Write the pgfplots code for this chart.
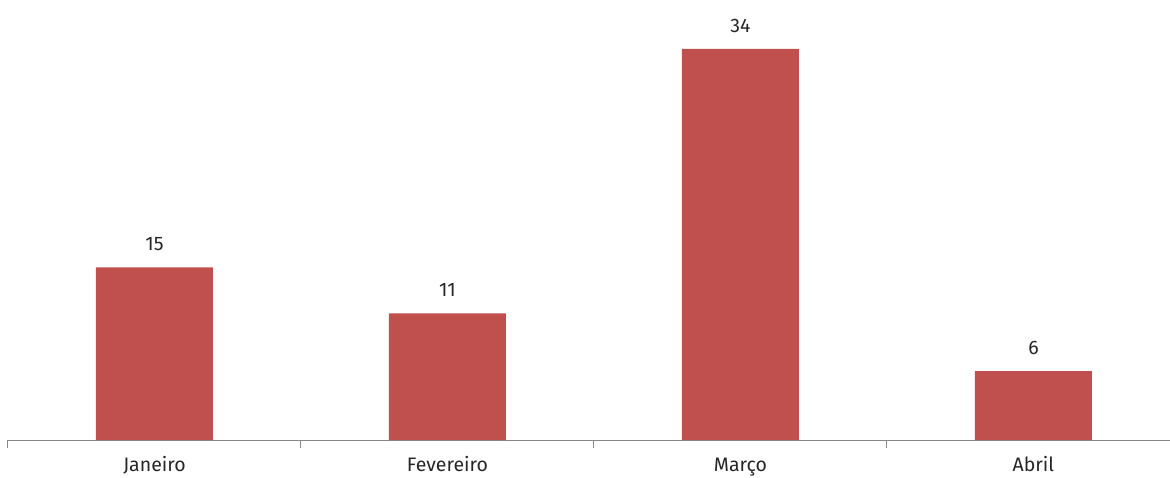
\documentclass[border=0pt]{standalone}
\usepackage{pgfplots}
\pgfplotsset{compat=1.18}
\usepackage{fontspec}
\setmainfont{Fira Sans}
\definecolor{barred}{HTML}{C0504D}
\definecolor{axisgray}{HTML}{888888}
\begin{document}
\begin{tikzpicture}[x=1pt,y=1pt]
\useasboundingbox (-8,-37) rectangle (1162,440);
\begin{axis}[
  at={(0,0)}, anchor=south west,
  scale only axis,
  width=1162pt, height=440pt,
  xmin=-0.5, xmax=3.466,
  ymin=0, ymax=38.26,
  axis x line*=bottom,
  axis y line=none,
  axis line style={axisgray, line width=1pt},
  xtick={0,1,2,3},
  xticklabels={Janeiro,Fevereiro,Março,Abril},
  major tick length=0pt,
  extra x ticks={-0.5,0.5,1.5,2.5},
  extra x tick labels={},
  extra x tick style={major tick length=8pt, tick align=outside,
    tick style={axisgray, line width=1pt}},
  xticklabel style={font=\fontsize{19.5}{22}\selectfont, text height=14pt, text depth=4pt,
    yshift=-14pt, text=black!85},
  ytick=\empty,
  clip=false,
  /pgf/number format/assume math mode=true,
  nodes near coords,
  every node near coord/.append style={font=\fontsize{19.5}{22}\selectfont, yshift=13pt, text=black!85},
]
\addplot[ybar, bar width=117pt, fill=barred, draw=none] coordinates {(0,15) (1,11) (2,34) (3,6)};
\end{axis}
\end{tikzpicture}
\end{document}
